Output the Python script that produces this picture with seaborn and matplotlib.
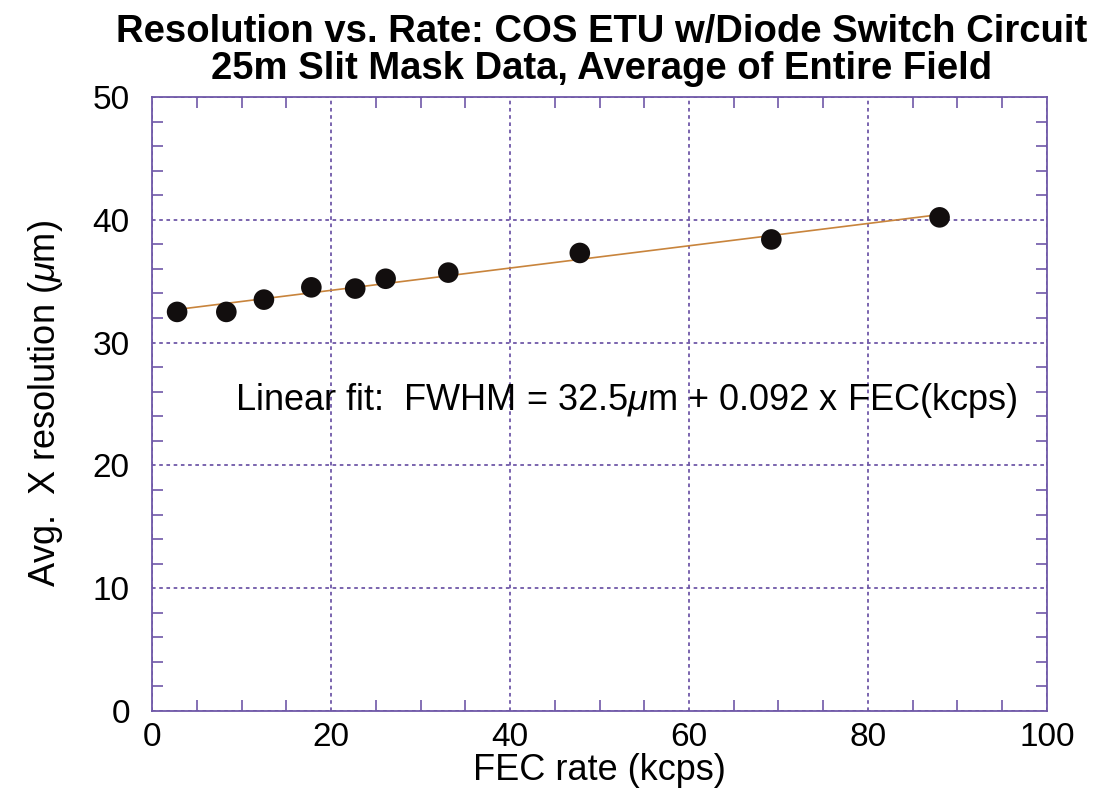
import matplotlib
matplotlib.use("Agg")
import matplotlib.pyplot as plt
from matplotlib.ticker import MultipleLocator
import pandas as pd
import seaborn as sns

# data
fec_rate = [2.8, 8.3, 12.5, 17.8, 22.7, 26.1, 33.1, 47.8, 69.2, 88.0]
x_resolution = [32.5, 32.5, 33.5, 34.5, 34.4, 35.2, 35.7, 37.3, 38.4, 40.2]

title = ("Resolution vs. Rate: COS ETU w/Diode Switch Circuit\n"
         "25m Slit Mask Data, Average of Entire Field")
fit_label = r"Linear fit:  FWHM = 32.5$\mu$m + 0.092 x FEC(kcps)"

PURPLE = "#6f58a8"

sns.set_theme(style="white")
plt.rcParams["font.family"] = ["Liberation Sans", "DejaVu Sans"]
plt.rcParams["text.color"] = "black"
plt.rcParams["axes.labelcolor"] = "black"
plt.rcParams["xtick.color"] = "black"
plt.rcParams["ytick.color"] = "black"
plt.rcParams["mathtext.fontset"] = "custom"
plt.rcParams["mathtext.it"] = "Liberation Sans:italic"
plt.rcParams["mathtext.rm"] = "Liberation Sans"

df = pd.DataFrame({"fec": fec_rate, "res": x_resolution})

fig = plt.figure(figsize=(10.97, 7.88), dpi=100)
ax = fig.add_axes([0.1386, 0.0977, 0.8158, 0.7792])

sns.regplot(data=df, x="fec", y="res", ax=ax, ci=None,
            scatter_kws=dict(s=220, color="#120e0e", alpha=1, edgecolor="none", zorder=3),
            line_kws=dict(color="#c8843c", lw=1.2, zorder=2))

ax.set_xlim(0, 100)
ax.set_ylim(0, 50)
ax.xaxis.set_major_locator(MultipleLocator(20))
ax.xaxis.set_minor_locator(MultipleLocator(5))
ax.yaxis.set_major_locator(MultipleLocator(10))
ax.yaxis.set_minor_locator(MultipleLocator(2))
ax.grid(True, which="major", color=PURPLE, linestyle=(0, (2, 2)), lw=1.3)
ax.tick_params(which="both", direction="in", top=True, right=True,
               bottom=True, left=True, color=PURPLE, labelsize=24)
ax.tick_params(axis="x", which="major", pad=8)
ax.tick_params(axis="y", which="major", pad=16)
ax.tick_params(which="major", length=0)
ax.tick_params(which="minor", length=8, width=1.2)
for s in ax.spines.values():
    s.set_color(PURPLE)
    s.set_linewidth(1.3)

ax.set_xlabel("FEC rate (kcps)", fontsize=26, labelpad=0)
ax.set_ylabel(r"Avg.  X resolution ($\mu$m)", fontsize=26, labelpad=20)
ax.text(9.3, 25.3, fit_label, fontsize=26, va="center", ha="left")

fig.suptitle(title, fontsize=27.5, fontweight="bold", x=0.548, y=0.982,
             linespacing=1.02)

fig.savefig("out.png", dpi=100)
